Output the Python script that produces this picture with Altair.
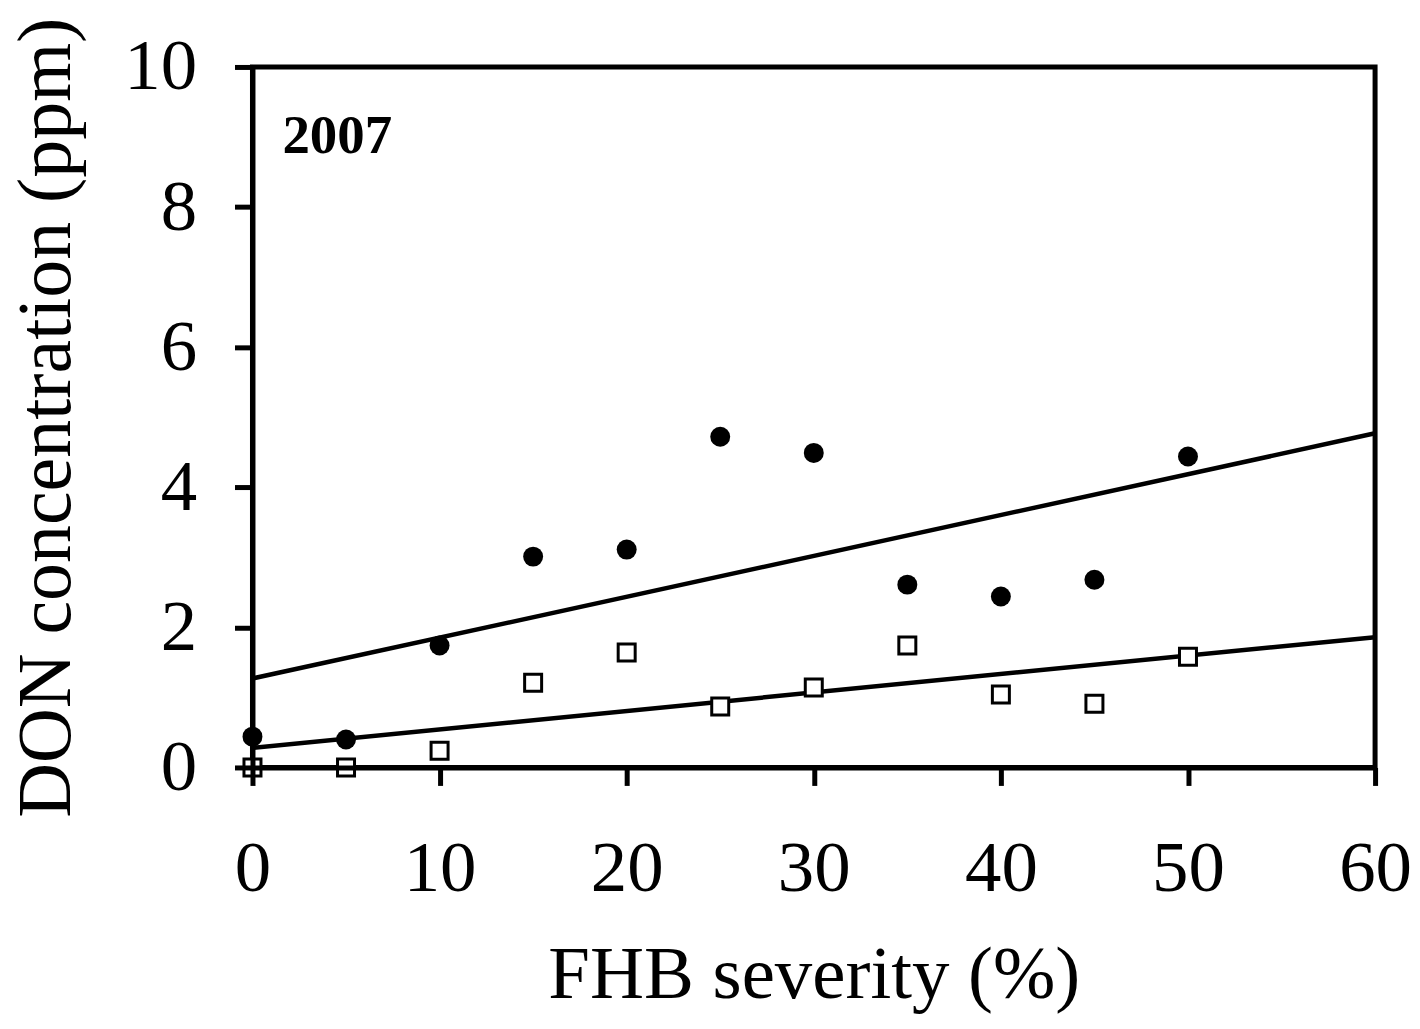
import altair as alt
import pandas as pd

# Data
severity = [0, 5, 10, 15, 20, 25, 30, 35, 40, 45, 50]
don_filled = [0.44, 0.40, 1.74, 3.01, 3.11, 4.72, 4.49, 2.61, 2.44, 2.68, 4.44]
don_open = [0.00, 0.00, 0.24, 1.21, 1.64, 0.87, 1.14, 1.74, 1.04, 0.91, 1.58]

fit_x = [0, 60]
fit_upper = [1.27, 4.77]
fit_lower = [0.28, 1.86]

label_x = [1.6]
label_y = [8.77]
label_text = ["2007"]

x_ticks = [0, 10, 20, 30, 40, 50, 60]
y_ticks = [0, 2, 4, 6, 8, 10]

pts = pd.DataFrame({"x": severity, "filled": don_filled, "open": don_open})
fits = pd.DataFrame({"x": fit_x * 2, "y": fit_upper + fit_lower,
                     "g": ["upper"] * 2 + ["lower"] * 2})
lab = pd.DataFrame({"x": label_x, "y": label_y, "t": label_text})

FONT = "Liberation Serif"

xscale = alt.Scale(domain=[0, 60], nice=False, zero=False)
yscale = alt.Scale(domain=[0, 10], nice=False, zero=False)

xaxis = alt.Axis(values=x_ticks, title="FHB severity (%)", labelFlush=False,
                 format="d", labelPadding=47, titlePadding=34, zindex=1)
yaxis = alt.Axis(values=y_ticks, title="DON concentration (ppm)", format="d",
                 labelPadding=38, titlePadding=38, titleFontSize=76, zindex=1)

lines = alt.Chart(fits).mark_line(color="black", strokeWidth=4.5).encode(
    x=alt.X("x:Q", scale=xscale, axis=xaxis),
    y=alt.Y("y:Q", scale=yscale, axis=yaxis),
    detail="g:N",
)

circles = alt.Chart(pts).mark_point(
    shape="circle", filled=True, color="black", size=400, opacity=1
).encode(x="x:Q", y="filled:Q")

squares = alt.Chart(pts).mark_point(
    shape="square", filled=False, fill="white", fillOpacity=1, stroke="black",
    strokeWidth=3, size=290, opacity=1
).encode(x="x:Q", y="open:Q")

text = alt.Chart(lab).mark_text(
    font=FONT, fontSize=55, fontWeight="bold", align="left",
    baseline="alphabetic", color="black"
).encode(x="x:Q", y="y:Q", text="t:N")

chart = alt.layer(lines, circles, squares, text).properties(
    width=1125, height=702,
    autosize=alt.AutoSizeParams(type="none"),
    padding={"left": 245, "top": 58, "right": 37, "bottom": 250},
).configure_view(
    stroke="black", strokeWidth=5
).configure_axis(
    grid=False,
    domainColor="black", domainWidth=5,
    tickColor="black", tickWidth=5, tickSize=18,
    labelColor="black", labelFont=FONT, labelFontSize=73,
    titleColor="black", titleFont=FONT, titleFontSize=75, titleFontWeight="normal",
)

chart.save("out.html", embed_options={"renderer": "svg", "actions": False})
